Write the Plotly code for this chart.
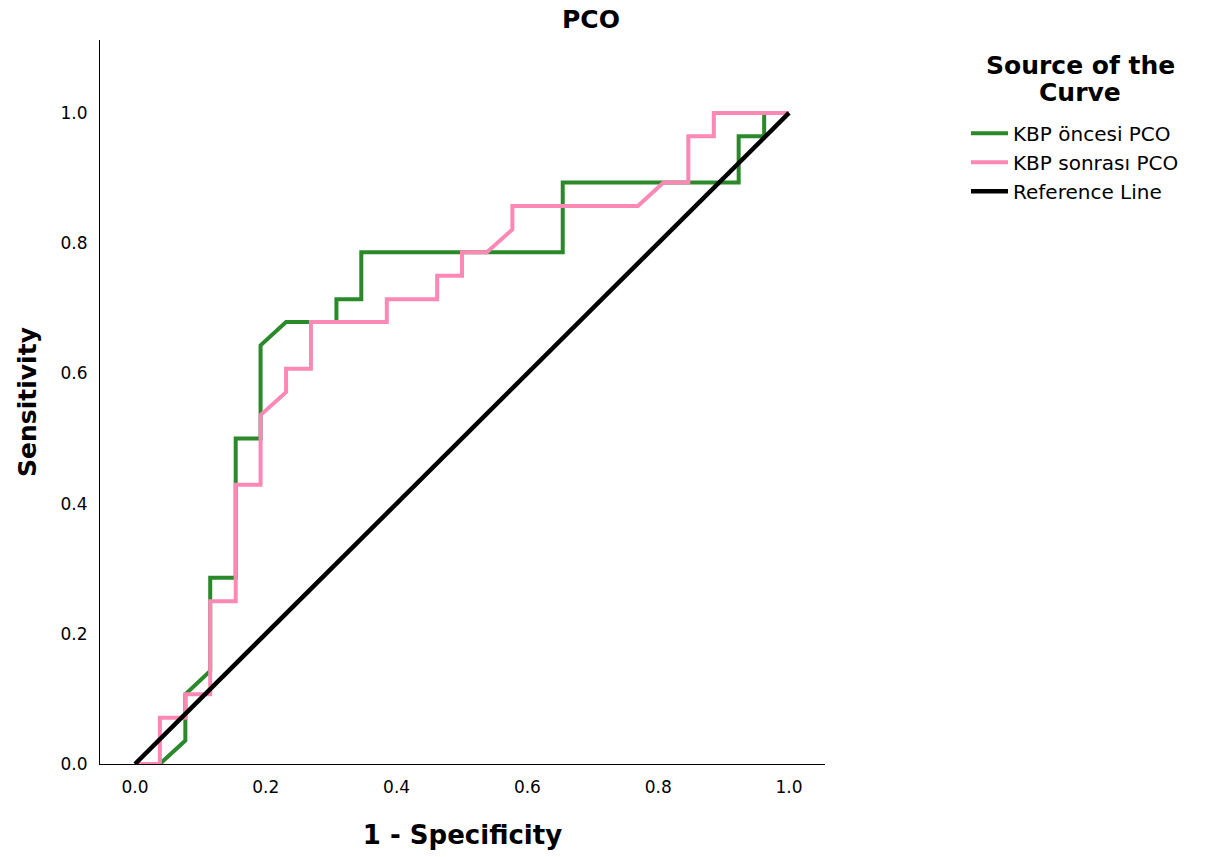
import plotly.graph_objects as go

# ROC curve coordinates
fpr_oncesi = [0, 0.038, 0.077, 0.077, 0.115, 0.115, 0.154, 0.154, 0.192, 0.192, 0.231, 0.308, 0.308,
              0.346, 0.346, 0.654, 0.654, 0.923, 0.923, 0.962, 0.962, 1.0]
tpr_oncesi = [0, 0, 0.036, 0.107, 0.143, 0.286, 0.286, 0.5, 0.5, 0.643, 0.679, 0.679, 0.714,
              0.714, 0.786, 0.786, 0.893, 0.893, 0.964, 0.964, 1.0, 1.0]

fpr_sonrasi = [0, 0.038, 0.038, 0.077, 0.077, 0.115, 0.115, 0.154, 0.154, 0.192, 0.192, 0.231, 0.231,
               0.269, 0.269, 0.385, 0.385, 0.462, 0.462, 0.5, 0.5, 0.538, 0.577, 0.577, 0.769, 0.808,
               0.846, 0.846, 0.885, 0.885, 1.0]
tpr_sonrasi = [0, 0, 0.071, 0.071, 0.107, 0.107, 0.25, 0.25, 0.429, 0.429, 0.536, 0.571, 0.607,
               0.607, 0.679, 0.679, 0.714, 0.714, 0.75, 0.75, 0.786, 0.786, 0.821, 0.857, 0.857, 0.893,
               0.893, 0.964, 0.964, 1.0, 1.0]

ref_x = [0, 1]
ref_y = [0, 1]

series_names = ["KBP öncesi PCO", "KBP sonrası PCO", "Reference Line"]
tick_vals = [0.0, 0.2, 0.4, 0.6, 0.8, 1.0]
tick_text = ["0.0", "0.2", "0.4", "0.6", "0.8", "1.0"]

GREEN = "#2A8A2A"
PINK = "#FC88B6"
FONT = "DejaVu Sans"

fig = go.Figure()
fig.add_trace(go.Scatter(x=fpr_oncesi, y=tpr_oncesi, mode="lines", name=series_names[0],
                         line=dict(color=GREEN, width=4)))
fig.add_trace(go.Scatter(x=fpr_sonrasi, y=tpr_sonrasi, mode="lines", name=series_names[1],
                         line=dict(color=PINK, width=4)))
fig.add_trace(go.Scatter(x=ref_x, y=ref_y, mode="lines", name=series_names[2],
                         line=dict(color="black", width=4.5)))

W, H = 1216, 857
PW, PH = 725, 726  # plot area size in px (x 100..825, y 40..766)


def px_x(p):
    return (p - 100) / PW


def px_y(p):
    return 1 - (p - 40) / PH


fig.update_layout(
    width=W, height=H,
    margin=dict(l=100, r=W - 825, t=40, b=H - 766),
    plot_bgcolor="white", paper_bgcolor="white",
    font=dict(family=FONT, color="black"),
    title=dict(text="<b>PCO</b>", x=591 / W, xanchor="center",
               y=1 - 19.5 / H, yanchor="middle", yref="container",
               font=dict(size=25, family=FONT)),
    showlegend=True,
    legend=dict(x=px_x(966), xanchor="left", y=px_y(114), yanchor="top",
                font=dict(size=20, family=FONT), tracegroupgap=0,
                bgcolor="rgba(0,0,0,0)", itemwidth=37),
    xaxis=dict(range=[-0.0535, 1.055], showgrid=False, zeroline=False, showline=True,
               linecolor="black", linewidth=1, ticks="", tickvals=tick_vals, ticktext=tick_text,
               tickfont=dict(size=17), ticklabelstandoff=8, mirror=False,
               title=dict(text="<b>1 - Specificity</b>", font=dict(size=26), standoff=29)),
    yaxis=dict(range=[0, 1.112], showgrid=False, zeroline=False, showline=True,
               linecolor="black", linewidth=1, ticks="", tickvals=tick_vals, ticktext=tick_text,
               tickfont=dict(size=17), ticklabelstandoff=8,
               title=dict(text="<b>Sensitivity</b>", font=dict(size=25), standoff=16)),
    annotations=[
        dict(text="<b>Source of the</b>", xref="paper", yref="paper",
             x=px_x(1080), y=px_y(66), xanchor="center", yanchor="middle",
             showarrow=False, font=dict(size=25, family=FONT)),
        dict(text="<b>Curve</b>", xref="paper", yref="paper",
             x=px_x(1080), y=px_y(93), xanchor="center", yanchor="middle",
             showarrow=False, font=dict(size=25, family=FONT)),
    ],
)

fig.write_html("out.html", config={"displayModeBar": False},
               post_script="document.body.style.margin='0';document.body.style.overflow='hidden';")
